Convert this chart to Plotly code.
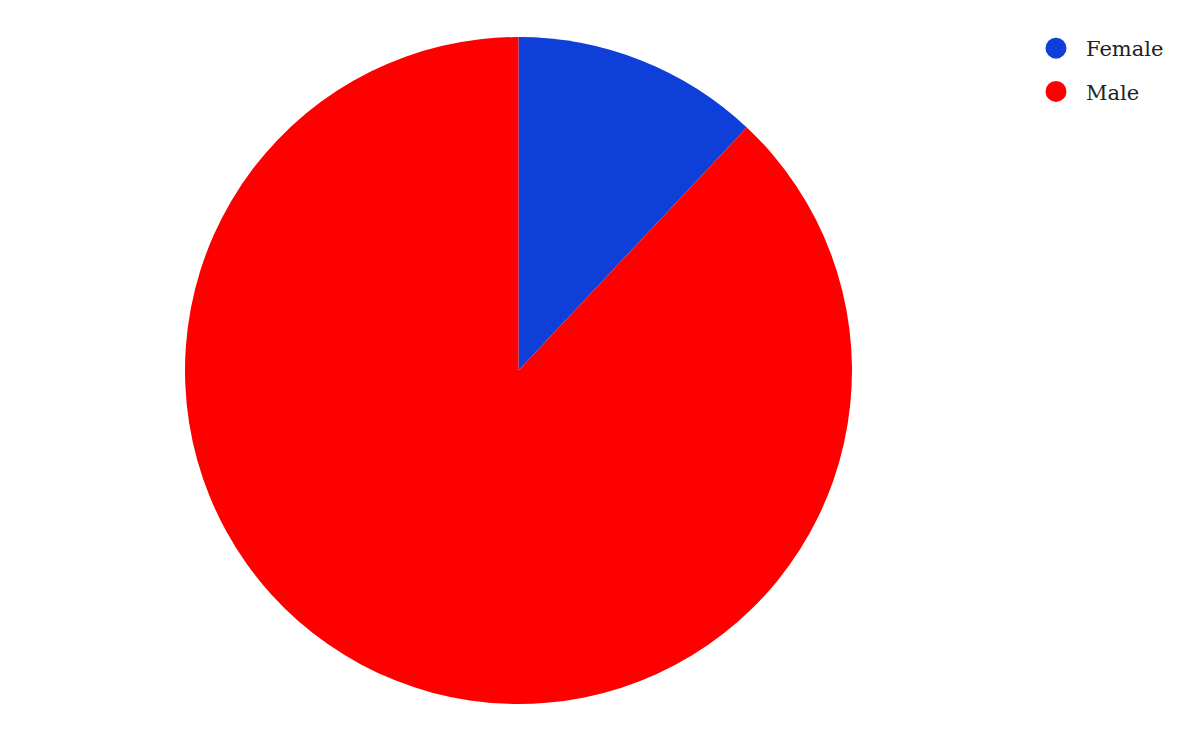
import plotly.graph_objects as go

labels = ["Female", "Male"]
values = [12, 88]
colors = ["#0e3fd8", "#ff0000"]

fig = go.Figure()

fig.add_trace(go.Pie(
    labels=labels,
    values=values,
    marker=dict(colors=colors, line=dict(width=0)),
    sort=False,
    direction="clockwise",
    rotation=0,
    textinfo="none",
    hoverinfo="label+value+percent",
    showlegend=False,
    domain=dict(x=[0, 1021 / 1200], y=[46 / 742, 1 - 29 / 742]),
))

# circle legend entries (pie legend only draws squares)
for lab, col in zip(labels, colors):
    fig.add_trace(go.Scatter(
        x=[None], y=[None], mode="markers", name=lab, legendgroup=lab,
        marker=dict(size=16, color=col, line=dict(width=5, color=col)),
        hoverinfo="skip",
    ))

fig.update_layout(
    width=1200,
    height=742,
    margin=dict(l=0, r=0, t=0, b=0),
    paper_bgcolor="white",
    plot_bgcolor="white",
    xaxis=dict(visible=False),
    yaxis=dict(visible=False),
    font=dict(family="DejaVu Serif, Liberation Serif, serif", color="#222222"),
    legend=dict(
        x=1018 / 1200, y=1 - 20 / 742, xanchor="left", yanchor="top",
        font=dict(size=21), itemwidth=50, tracegroupgap=13,
        bgcolor="rgba(0,0,0,0)",
    ),
)

fig.write_html("out.html")
